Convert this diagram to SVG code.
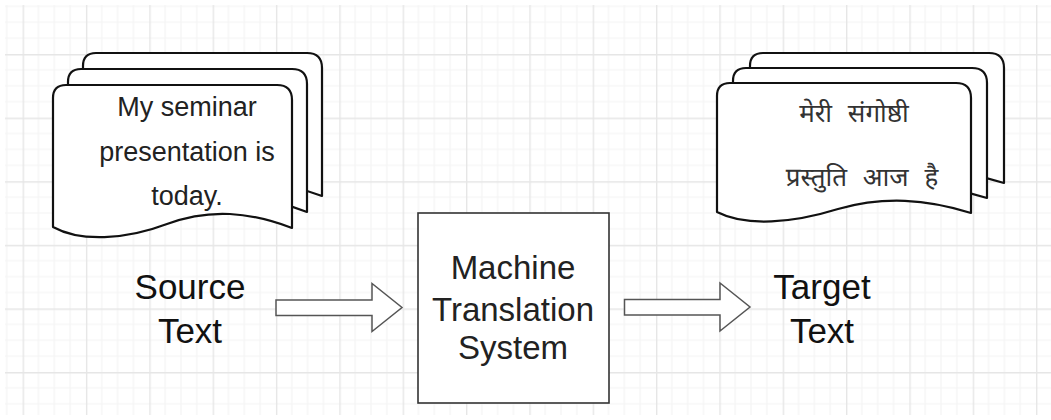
<svg xmlns="http://www.w3.org/2000/svg" width="1051" height="420" viewBox="0 0 1051 420">
  <style>
    .page { fill: #ffffff; stroke: #111111; stroke-width: 2.2; stroke-linejoin: round; }
    .box { fill: #ffffff; stroke: #333333; stroke-width: 1.6; }
    .block-arrow { fill: #ffffff; stroke: #555555; stroke-width: 1.5; stroke-linejoin: miter; }
    .doc-text { font-family: "Liberation Sans", Arial, sans-serif; font-size: 27px; fill: #222222; text-anchor: middle; }
    .hi-text { font-family: "Noto Sans Devanagari", "Lohit Devanagari", Mangal, "FreeSans", sans-serif; font-size: 26px; fill: #333333; text-anchor: middle; word-spacing: 9px; }
    .label { font-family: "Liberation Sans", Arial, sans-serif; font-size: 35px; fill: #111111; text-anchor: middle; }
    .box-text { font-family: "Liberation Sans", Arial, sans-serif; font-size: 33px; fill: #222222; text-anchor: middle; }
  </style>
  <defs>
    <!-- drawing-canvas grid: faint minor lines, stronger every fourth -->
    <pattern id="grid" patternUnits="userSpaceOnUse" x="22.6" y="54" width="63.34" height="63.6">
      <g stroke="#f4f4f4" stroke-width="1.2">
        <line x1="15.84" y1="0" x2="15.84" y2="63.6"/>
        <line x1="31.67" y1="0" x2="31.67" y2="63.6"/>
        <line x1="47.5" y1="0" x2="47.5" y2="63.6"/>
        <line x1="0" y1="15.9" x2="63.34" y2="15.9"/>
        <line x1="0" y1="31.8" x2="63.34" y2="31.8"/>
        <line x1="0" y1="47.7" x2="63.34" y2="47.7"/>
      </g>
      <g stroke="#e6e6e6" stroke-width="1.4">
        <line x1="0.7" y1="0" x2="0.7" y2="63.6"/>
        <line x1="0" y1="0.7" x2="63.34" y2="0.7"/>
      </g>
    </pattern>
  </defs>

  <rect width="1051" height="420" fill="#ffffff"/>
  <rect x="5" y="5" width="1046" height="410" fill="url(#grid)"/>

  <!-- stacked pages holding the source sentence -->
  <g id="source-document">
    <path class="page" d="M83,66 Q83,53 96,53 L307,53 Q322,53 322,68 L322,196 C280,180 240,176 197,192 C155,208 110,210 83,195 Z"/>
    <path class="page" d="M68,82 Q68,69 81,69 L292,69 Q307,69 307,84 L307,212 C265,196 225,192 182,208 C140,224 95,226 68,211 Z"/>
    <path class="page" d="M53,98 Q53,85 66,85 L277,85 Q292,85 292,100 L292,228 C250,212 210,208 167,224 C125,240 80,242 53,227 Z"/>
    <text class="doc-text" x="187" y="116">My seminar</text>
    <text class="doc-text" x="187" y="161">presentation is</text>
    <text class="doc-text" x="187" y="205">today.</text>
  </g>

  <!-- stacked pages holding the translated sentence -->
  <g id="target-document">
    <path class="page" d="M750,66 Q750,53 763,53 L989,53 Q1004,53 1004,68 L1004,183 C959,169 917,166 871,179 C826,193 779,197 750,182 Z"/>
    <path class="page" d="M733,81 Q733,68 746,68 L972,68 Q987,68 987,83 L987,198 C942,184 900,181 854,194 C809,208 762,212 733,197 Z"/>
    <path class="page" d="M717,96 Q717,83 730,83 L956,83 Q971,83 971,98 L971,213 C926,199 884,196 838,209 C793,223 746,227 717,212 Z"/>
    <text class="hi-text" x="854" y="122">मेरी संगोष्ठी</text>
    <text class="hi-text" x="862" y="186">प्रस्तुति आज है</text>
  </g>

  <g id="source-label">
    <text class="label" x="190" y="299">Source</text>
    <text class="label" x="190" y="343">Text</text>
  </g>

  <g id="mt-system">
    <rect class="box" x="418" y="213" width="191" height="190"/>
    <text class="box-text" x="513" y="279">Machine</text>
    <text class="box-text" x="513" y="321">Translation</text>
    <text class="box-text" x="513" y="359">System</text>
  </g>

  <g id="target-label">
    <text class="label" x="822" y="299">Target</text>
    <text class="label" x="822" y="343">Text</text>
  </g>

  <!-- hollow block arrows between the stages -->
  <g id="connectors">
    <path class="block-arrow" d="M276,300 L372,300 L372,283.5 L402,307.5 L372,331.5 L372,315.5 L276,315.5 Z"/>
    <path class="block-arrow" d="M624.5,299.5 L720,299.5 L720,283 L750,307 L720,331 L720,315 L624.5,315 Z"/>
  </g>
</svg>
